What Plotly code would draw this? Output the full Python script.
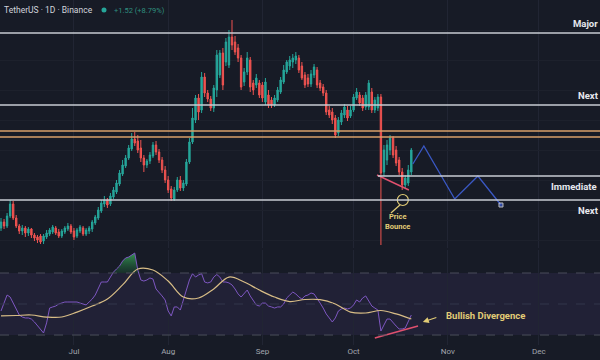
import plotly.graph_objects as go
import pandas as pd

# ---------------- data ----------------
start_date = "2023-06-07"   # first daily candle

opens = [7.2, 7.8, 7.4, 8.4, 9.6, 8.2, 7.4, 6.9, 7.2, 6.7,
         7.1, 6.5, 6.3, 6.4, 5.9, 6.3, 6.6, 6.8, 7.2, 6.8,
         6.4, 6.8, 7.1, 7.4, 6.9, 6.4, 6.9, 7.2, 6.6, 6.9,
         7.1, 7.7, 8.2, 8.9, 9.6, 10.0, 9.6, 10.3, 10.8, 11.6,
         12.6, 13.4, 14.2, 15.1, 16.1, 15.9, 15.2, 14.2, 13.5, 13.9,
         14.4, 15.5, 14.8, 14.0, 13.0, 12.0, 11.1, 10.1, 11.0, 12.0,
         11.2, 11.6, 13.8, 15.8, 18.0, 20.2, 19.0, 22.3, 20.7, 20.1,
         19.2, 21.0, 22.5, 24.7, 23.8, 23.5, 26.3, 25.8, 25.2, 24.2,
         21.8, 22.8, 24.0, 21.7, 21.5, 21.7, 21.5, 19.8, 20.5, 20.0,
         19.5, 20.0, 20.8, 21.8, 22.8, 23.4, 23.8, 24.0, 24.2, 23.4,
         22.5, 22.2, 21.6, 22.5, 23.0, 21.7, 21.3, 20.7, 19.0, 18.8,
         18.2, 16.7, 17.8, 18.5, 19.0, 18.4, 19.0, 20.2, 20.5, 20.2,
         19.3, 19.3, 20.8, 19.0, 19.2, 20.3, 12.8, 14.0, 15.0, 16.2,
         15.0, 14.0, 12.8, 11.5, 11.7, 12.8]
highs = [8.2, 8.1, 8.7, 10.0, 9.9, 8.5, 7.6, 7.5, 7.4, 7.3,
         7.2, 6.7, 6.5, 6.6, 6.6, 7.0, 7.2, 7.5, 7.4, 7.1,
         7.1, 7.4, 7.7, 7.6, 7.2, 7.2, 7.5, 7.4, 7.2, 7.4,
         8.0, 8.5, 9.3, 10.0, 10.4, 10.2, 10.7, 11.3, 12.0, 13.0,
         14.0, 14.5, 15.5, 16.7, 16.8, 16.5, 16.0, 14.5, 14.1, 14.8,
         15.8, 15.9, 15.1, 14.3, 13.4, 12.4, 11.4, 11.3, 12.3, 12.4,
         12.0, 14.1, 16.2, 19.2, 20.5, 20.6, 22.8, 22.7, 21.0, 20.4,
         21.5, 25.0, 25.0, 25.2, 26.2, 27.0, 28.0, 26.4, 25.6, 24.5,
         23.2, 24.8, 24.3, 22.0, 22.6, 22.0, 21.8, 22.2, 21.0, 20.3,
         20.5, 21.3, 22.3, 23.5, 24.0, 24.4, 24.6, 24.8, 24.5, 23.8,
         22.8, 22.6, 23.0, 23.6, 23.3, 22.0, 21.6, 21.0, 19.4, 19.2,
         18.5, 18.3, 19.0, 19.6, 19.4, 19.4, 20.6, 21.2, 20.8, 20.5,
         20.8, 22.0, 21.2, 20.3, 20.6, 20.6, 15.5, 16.0, 16.5, 16.4,
         15.4, 14.3, 13.2, 12.5, 13.5, 15.2]
lows = [6.9, 7.1, 7.2, 8.2, 8.0, 7.2, 6.6, 6.5, 6.3, 6.4,
        6.2, 5.9, 5.7, 5.6, 5.6, 6.1, 6.4, 6.6, 6.5, 6.2,
        6.2, 6.6, 6.9, 6.6, 6.0, 6.2, 6.7, 6.4, 6.4, 6.6,
        6.8, 7.5, 8.0, 8.7, 9.3, 9.2, 9.4, 10.1, 10.6, 11.4,
        12.4, 13.2, 14.0, 14.9, 15.4, 14.7, 13.8, 12.8, 13.2, 13.6,
        14.2, 14.5, 13.7, 12.7, 11.7, 10.7, 9.9, 9.9, 10.8, 10.9,
        10.9, 11.4, 13.6, 15.6, 17.7, 18.0, 18.7, 20.3, 19.8, 18.9,
        18.8, 20.3, 22.2, 21.0, 23.4, 23.2, 25.0, 24.5, 23.8, 21.0,
        21.4, 22.5, 20.8, 20.5, 21.2, 20.2, 19.8, 19.5, 19.2, 19.2,
        19.3, 19.8, 20.6, 21.6, 22.6, 23.0, 23.2, 23.6, 22.7, 22.0,
        21.2, 21.3, 21.3, 22.2, 21.2, 20.9, 20.4, 18.5, 18.2, 17.6,
        16.2, 16.4, 17.5, 18.2, 17.9, 18.2, 18.8, 20.0, 19.4, 18.9,
        19.0, 19.0, 18.7, 18.7, 18.9, 5.5, 12.4, 13.5, 14.5, 14.2,
        13.4, 12.5, 11.0, 11.2, 11.4, 12.5]
closes = [7.8, 7.4, 8.4, 9.6, 8.2, 7.4, 6.9, 7.2, 6.7, 7.1,
          6.5, 6.2, 6.0, 5.8, 6.4, 6.7, 7.0, 7.3, 6.7, 6.4,
          6.9, 7.2, 7.4, 6.8, 6.3, 7.0, 7.3, 6.6, 7.0, 7.2,
          7.8, 8.3, 9.0, 9.7, 10.0, 9.5, 10.4, 11.0, 11.7, 12.7,
          13.5, 14.2, 15.2, 16.1, 15.7, 15.0, 14.2, 13.5, 13.9, 14.5,
          15.5, 14.8, 14.0, 13.0, 12.0, 11.0, 10.2, 11.0, 12.0, 11.2,
          11.7, 13.8, 15.8, 18.2, 20.2, 18.8, 22.3, 20.7, 20.1, 19.2,
          21.2, 24.5, 24.7, 21.5, 25.8, 26.3, 25.5, 24.8, 24.2, 21.3,
          22.8, 24.2, 21.3, 21.0, 22.2, 20.5, 20.2, 21.8, 19.5, 19.5,
          20.2, 21.0, 22.0, 23.0, 23.8, 24.0, 24.2, 24.4, 23.0, 22.2,
          21.5, 21.6, 22.6, 23.3, 21.5, 21.2, 20.7, 18.8, 18.5, 18.0,
          16.5, 18.0, 18.7, 19.3, 18.2, 19.0, 20.3, 20.8, 19.7, 19.2,
          20.5, 21.7, 19.0, 20.0, 20.3, 12.7, 15.0, 15.5, 16.2, 14.5,
          13.7, 12.8, 11.5, 12.2, 13.0, 15.0]

rsi = [45.5, 50.6, 55.8, 54.5, 50.6, 46.8, 42.9, 41.6, 41.0, 41.0,
       40.3, 38.4, 35.8, 33.2, 31.3, 37.8, 47.4, 48.1, 48.7, 50.0,
       50.6, 51.3, 51.3, 51.3, 51.3, 51.3, 50.6, 50.0, 49.4, 51.3,
       53.2, 55.8, 60.3, 64.2, 64.2, 64.2, 67.4, 70.6, 72.6, 74.5,
       77.7, 79.7, 80.3, 81.6, 82.9, 71.9, 65.5, 64.8, 65.5, 66.8,
       66.1, 59.7, 57.7, 55.2, 52.6, 45.5, 42.3, 48.1, 48.1, 46.1,
       52.6, 58.4, 65.5, 69.5, 67.4, 68.7, 69.6, 64.2, 63.6, 64.2,
       67.4, 69.0, 67.4, 64.2, 64.2, 63.6, 62.3, 59.7, 56.5, 54.5,
       57.1, 59.0, 55.2, 51.9, 49.4, 48.7, 50.6, 50.6, 48.7, 48.1,
       47.4, 48.1, 48.1, 50.0, 53.9, 55.8, 57.7, 56.5, 54.5, 53.2,
       55.2, 55.8, 57.1, 56.5, 53.9, 50.6, 47.4, 43.6, 41.0, 38.4,
       41.0, 45.5, 46.8, 47.4, 46.8, 47.4, 49.4, 52.6, 51.3, 53.9,
       55.2, 51.9, 48.7, 47.4, 46.1, 32.6, 36.5, 40.3, 40.3, 37.8,
       35.8, 33.9, 33.9, 34.5, 39.0, 42.9]

ma_step = 5   # RSI moving average read every 5th day
rsi_ma = [42.3, 42.6, 42.9, 41.6, 41.6, 44.8, 48.7, 53.2, 62.3, 72.6,
          71.9, 64.8, 54.5, 53.9, 59.7, 67.4, 64.2, 59.0, 54.5, 51.6,
          52.9, 52.8, 50.0, 44.8, 44.2, 45.8, 43.6, 40.3]

# horizontal levels
level_names = ["Major", "Next", "Immediate", "Next"]
level_prices = [26.7, 19.5, 12.4, 10.0]
level_starts = [None, None, "2023-10-09", None]
level_label_x = [571, 576, 549, 576]          # px where label text starts
level_label_side = ["above", "above", "below", "below"]
orange_prices = [16.9, 16.3]

# drawn annotations
trend_dates = ["2023-10-08 17:00", "2023-10-19 05:00"]
trend_prices = [12.5, 11.0]
proj_dates = ["2023-10-20 12:00", "2023-10-24 03:00", "2023-11-03 07:00",
              "2023-11-10 22:00", "2023-11-18 12:00"]
proj_prices = [13.6, 15.4, 10.1, 12.4, 9.5]
bounce_date, bounce_price = "2023-10-17 05:00", 10.0
bounce_ptr_dates = ["2023-10-16 06:00", "2023-10-13 07:00"]
bounce_ptr_prices = [9.5, 8.7]
bounce_text_date, bounce_text_price = "2023-10-15 07:00", 7.9
div_dates = ["2023-10-08 00:00", "2023-10-22 05:00"]
div_rsi = [28.1, 35.8]
div_arrow_date, div_arrow_rsi = "2023-10-23 19:00", 38.4
div_text_date, div_text_rsi = "2023-11-13 12:00", 42.9
ob_start, ob_end = 36, 46   # overbought segment (indices)

header_title = "TetherUS · 1D · Binance"
header_change = "+1.52 (+8.79%)"

x_range = ["2023-06-06 16:00", "2023-12-21 02:00"]

# ---------------- styling ----------------
BG = "#171b26"
GRID = "#212533"
GREEN = "#26a69a"
RED = "#ef5350"
WHITE_LINE = "#c9ccd3"
ORANGE = "#d9a16a"
YELLOW = "#e2cc76"
PURPLE = "#7e57c2"
MA_COL = "#d8bd86"
BLUE = "#3a58c4"
W, H = 600, 360

dates = pd.date_range(start_date, periods=len(closes), freq="D")
ma_dates = dates[::ma_step]

fig = go.Figure()

# candles
fig.add_trace(go.Candlestick(
    x=dates, open=opens, high=highs, low=lows, close=closes,
    increasing=dict(line=dict(color=GREEN, width=1), fillcolor=GREEN),
    decreasing=dict(line=dict(color=RED, width=1), fillcolor=RED),
    whiskerwidth=0, xaxis="x", yaxis="y", showlegend=False, hoverinfo="skip"))

# horizontal level lines
for p, s in zip(level_prices, level_starts):
    fig.add_shape(type="line", xref="x", yref="y",
                  x0=s if s else x_range[0], x1=x_range[1], y0=p, y1=p,
                  line=dict(color=WHITE_LINE, width=1.3))
for p in orange_prices:
    fig.add_shape(type="line", xref="x", yref="y", x0=x_range[0], x1=x_range[1],
                  y0=p, y1=p, line=dict(color=ORANGE, width=1.3))

# level labels
for name, p, lx, side in zip(level_names, level_prices, level_label_x, level_label_side):
    fig.add_annotation(xref="paper", yref="y", x=lx / W, y=p, text="<b>%s</b>" % name,
                       xanchor="left", yanchor="bottom" if side == "above" else "top",
                       yshift=2 if side == "above" else -3, showarrow=False,
                       font=dict(family="Roboto", size=9.5, color="#e6e8ee"))

# trendline on price
fig.add_trace(go.Scatter(x=trend_dates, y=trend_prices, mode="lines",
                         line=dict(color="#e0506e", width=1.4), xaxis="x", yaxis="y",
                         showlegend=False, hoverinfo="skip"))
# projection path
fig.add_trace(go.Scatter(x=proj_dates, y=proj_prices, mode="lines+markers",
                         line=dict(color=BLUE, width=1.3),
                         marker=dict(size=[0, 0, 0, 0, 4], color=BLUE, symbol="square"),
                         xaxis="x", yaxis="y", showlegend=False, hoverinfo="skip"))
# price bounce marker
fig.add_trace(go.Scatter(x=[bounce_date], y=[bounce_price], mode="markers",
                         marker=dict(size=11, symbol="circle-open", color=YELLOW,
                                     line=dict(width=1.2, color=YELLOW)),
                         xaxis="x", yaxis="y", showlegend=False, hoverinfo="skip"))
fig.add_trace(go.Scatter(x=bounce_ptr_dates, y=bounce_ptr_prices, mode="lines",
                         line=dict(color=YELLOW, width=1.2), xaxis="x", yaxis="y",
                         showlegend=False, hoverinfo="skip"))
fig.add_annotation(xref="x", yref="y", x=bounce_text_date, y=bounce_text_price,
                   text="<b>Price<br>Bounce</b>", showarrow=False, align="center",
                   font=dict(family="Roboto", size=7.5, color=YELLOW))

# ---------- RSI pane ----------
fig.add_shape(type="rect", xref="paper", yref="y2", x0=0, x1=1, y0=30, y1=70,
              fillcolor="rgba(126,87,194,0.10)", line=dict(width=0), layer="below")
for lvl in (70, 50, 30):
    fig.add_shape(type="line", xref="paper", yref="y2", x0=0, x1=1, y0=lvl, y1=lvl,
                  line=dict(color="#4a4d5a" if lvl != 50 else "#33364a", width=1,
                            dash="dash"))

ob_dates = dates[ob_start:ob_end + 1]
ob_vals = [max(v, 70) for v in rsi[ob_start:ob_end + 1]]
fig.add_trace(go.Scatter(x=ob_dates, y=[70] * len(ob_dates), mode="lines",
                         line=dict(width=0), xaxis="x2", yaxis="y2",
                         showlegend=False, hoverinfo="skip"))
fig.add_trace(go.Scatter(x=ob_dates, y=ob_vals, mode="lines", line=dict(width=0),
                         fill="tonexty",
                         fillgradient=dict(type="vertical",
                                           colorscale=[[0, "rgba(30,110,60,0.25)"],
                                                       [1, "rgba(60,170,90,0.85)"]]),
                         xaxis="x2", yaxis="y2", showlegend=False, hoverinfo="skip"))

fig.add_trace(go.Scatter(x=dates, y=rsi, mode="lines", line=dict(color=PURPLE, width=1),
                         xaxis="x2", yaxis="y2", showlegend=False, hoverinfo="skip"))
fig.add_trace(go.Scatter(x=ma_dates, y=rsi_ma, mode="lines",
                         line=dict(color=MA_COL, width=1.2, shape="spline"),
                         xaxis="x2", yaxis="y2", showlegend=False, hoverinfo="skip"))
fig.add_trace(go.Scatter(x=div_dates, y=div_rsi, mode="lines",
                         line=dict(color="#e0506e", width=1.5),
                         xaxis="x2", yaxis="y2", showlegend=False, hoverinfo="skip"))
fig.add_annotation(xref="x2", yref="y2", x=div_arrow_date, y=div_arrow_rsi, text="",
                   showarrow=True, ax=15, ay=-5, arrowhead=2, arrowsize=1,
                   arrowwidth=1.2, arrowcolor=YELLOW)
fig.add_annotation(xref="x2", yref="y2", x=div_text_date, y=div_text_rsi,
                   text="<b>Bullish Divergence</b>", showarrow=False,
                   font=dict(family="Roboto", size=9.5, color=YELLOW))

# ---------- header ----------
fig.add_annotation(xref="paper", yref="paper", x=2 / W, y=1 - 10 / H,
                   text=header_title, showarrow=False,
                   xanchor="left", yanchor="middle",
                   font=dict(family="Roboto", size=8.5, color="#d1d4dc"))
fig.add_shape(type="circle", xref="paper", yref="paper",
              x0=101.5 / W, x1=106.5 / W, y0=1 - 12.5 / H, y1=1 - 7.5 / H,
              fillcolor=GREEN, line=dict(width=0))
fig.add_annotation(xref="paper", yref="paper", x=112 / W, y=1 - 10.5 / H,
                   text=header_change, showarrow=False, xanchor="left",
                   yanchor="middle", font=dict(family="Roboto", size=7.5, color="#2f8f7f"))

axis_common = dict(range=x_range, type="date", showgrid=True, gridcolor=GRID,
                   gridwidth=1, dtick="M1", tick0="2023-07-01", zeroline=False,
                   showline=False, ticks="")
fig.update_layout(
    width=W, height=H, margin=dict(l=0, r=0, t=0, b=0),
    paper_bgcolor=BG, plot_bgcolor=BG, showlegend=False, boxgap=0.35,
    xaxis=dict(axis_common, anchor="y", domain=[0, 1], showticklabels=False,
               rangeslider=dict(visible=False)),
    xaxis2=dict(axis_common, anchor="y2", domain=[0, 1], matches="x",
                showticklabels=True, tickformat="%b",
                tickfont=dict(family="Roboto", size=8, color="#a3a6af")),
    yaxis=dict(domain=[1 - 248 / H, 1], range=[30 - 248 / 10, 30], showticklabels=False,
               showgrid=True, gridcolor="#1d212c", dtick=3, zeroline=False),
    yaxis2=dict(domain=[15 / H, 110 / H], range=[23.56, 84.84], showticklabels=False,
                showgrid=False, zeroline=False),
)

fig.write_html("out.html")
